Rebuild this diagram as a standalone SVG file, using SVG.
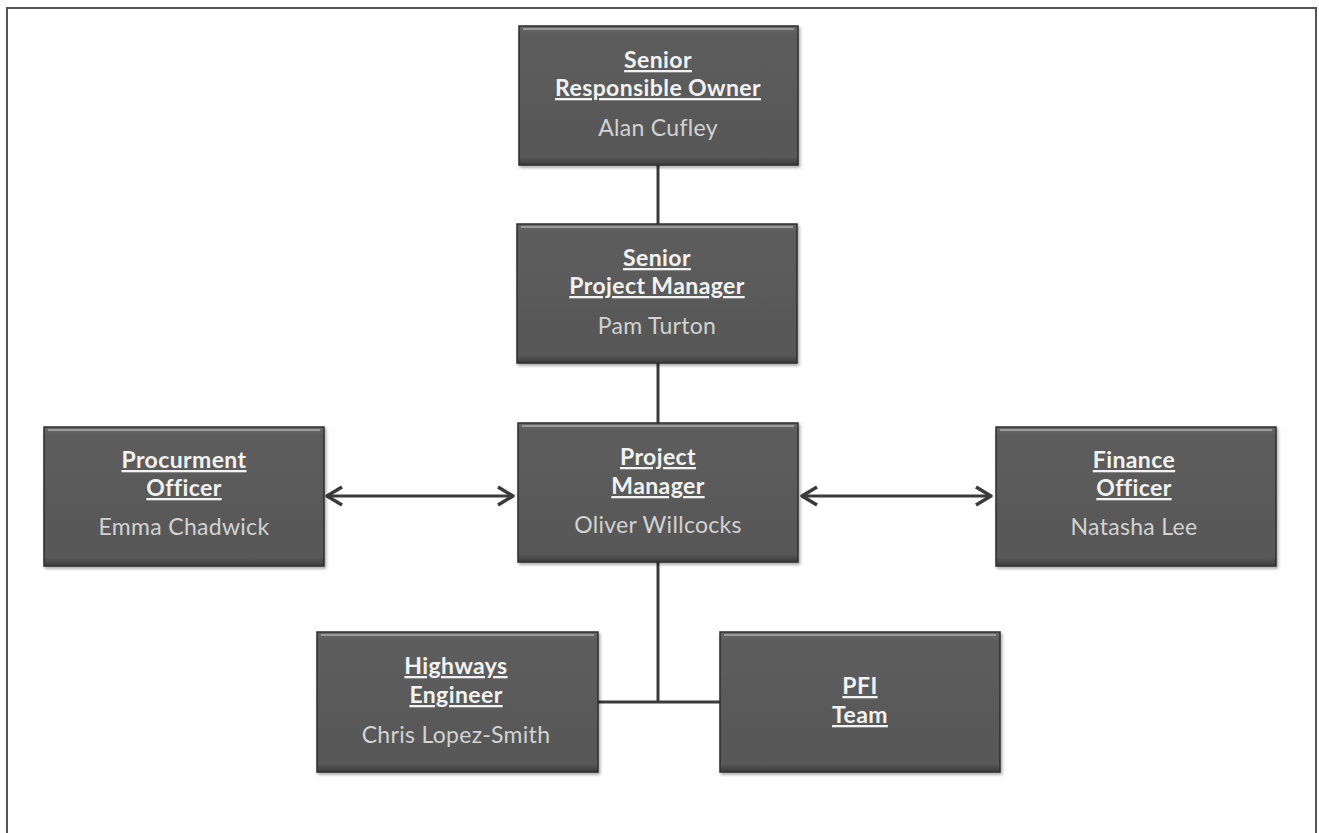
<svg xmlns="http://www.w3.org/2000/svg" width="1319" height="833" viewBox="0 0 1319 833">
<style>
.box{fill:url(#g);stroke:#2e2e2e;stroke-width:1.5}
.hl{fill:none;stroke:#9a9a9a;stroke-width:2}
.t{font-family:Lato,"Open Sans",sans-serif;font-size:23px;font-weight:bold;fill:#f2f2f2;text-anchor:middle;text-decoration:underline;letter-spacing:0.4px}
.n{font-family:Lato,"Open Sans",sans-serif;font-size:23px;fill:#d2d2d2;text-anchor:middle;letter-spacing:0.3px}
.c{stroke:#3a3a3a;stroke-width:3;fill:none}
</style>
<defs>
<linearGradient id="g" x1="0" y1="0" x2="0" y2="1">
<stop offset="0" stop-color="#6a6a6a"/>
<stop offset="0.06" stop-color="#5c5c5c"/>
<stop offset="0.94" stop-color="#585858"/>
<stop offset="1" stop-color="#3c3c3c"/>
</linearGradient>
<marker id="a" viewBox="0 0 22 22" refX="19" refY="11" markerWidth="22" markerHeight="22" markerUnits="userSpaceOnUse" orient="auto-start-reverse">
<path d="M4 2 L19 11 L4 20" fill="none" stroke="#3a3a3a" stroke-width="3.5" stroke-linejoin="round"/>
</marker>
<filter id="s" x="-5%" y="-5%" width="112%" height="115%">
<feDropShadow dx="1.5" dy="2" stdDeviation="1.5" flood-color="#000" flood-opacity="0.35"/>
</filter>
</defs>
<rect width="1319" height="833" fill="#fff"/>
<path d="M7 840 V8 H1316 V840" fill="none" stroke="#555" stroke-width="2"/>
<g id="connectors">
<line class="c" x1="658" y1="165" x2="658" y2="224"/>
<line class="c" x1="658" y1="363" x2="658" y2="423"/>
<line class="c" x1="658" y1="562" x2="658" y2="702"/>
<line class="c" x1="598" y1="702" x2="720" y2="702"/>
<line class="c" x1="327" y1="496" x2="513" y2="496" marker-start="url(#a)" marker-end="url(#a)"/>
<line class="c" x1="802" y1="496" x2="991" y2="496" marker-start="url(#a)" marker-end="url(#a)"/>
</g>
<g id="sro">
<rect class="box" x="519" y="26" width="279" height="139" filter="url(#s)"/>
<line class="hl" x1="523" y1="29" x2="794" y2="29"/>
<text class="t" x="658" y="68">Senior</text>
<text class="t" x="658" y="96">Responsible Owner</text>
<text class="n" x="658" y="136">Alan Cufley</text>
</g>
<g id="spm">
<rect class="box" x="517" y="224" width="280" height="139" filter="url(#s)"/>
<line class="hl" x1="521" y1="227" x2="793" y2="227"/>
<text class="t" x="657" y="266">Senior</text>
<text class="t" x="657" y="294">Project Manager</text>
<text class="n" x="657" y="334">Pam Turton</text>
</g>
<g id="pm">
<rect class="box" x="518" y="423" width="280" height="139" filter="url(#s)"/>
<line class="hl" x1="522" y1="426" x2="794" y2="426"/>
<text class="t" x="658" y="465">Project</text>
<text class="t" x="658" y="494">Manager</text>
<text class="n" x="658" y="533">Oliver Willcocks</text>
</g>
<g id="procurement">
<rect class="box" x="44" y="427" width="280" height="139" filter="url(#s)"/>
<line class="hl" x1="48" y1="430" x2="320" y2="430"/>
<text class="t" x="184" y="468">Procurment</text>
<text class="t" x="184" y="496">Officer</text>
<text class="n" x="184" y="535">Emma Chadwick</text>
</g>
<g id="finance">
<rect class="box" x="996" y="427" width="280" height="139" filter="url(#s)"/>
<line class="hl" x1="1000" y1="430" x2="1272" y2="430"/>
<text class="t" x="1134" y="468">Finance</text>
<text class="t" x="1134" y="496">Officer</text>
<text class="n" x="1134" y="535">Natasha Lee</text>
</g>
<g id="highways">
<rect class="box" x="317" y="632" width="281" height="140" filter="url(#s)"/>
<line class="hl" x1="321" y1="635" x2="594" y2="635"/>
<text class="t" x="456" y="674">Highways</text>
<text class="t" x="456" y="703">Engineer</text>
<text class="n" x="456" y="743">Chris Lopez-Smith</text>
</g>
<g id="pfi">
<rect class="box" x="720" y="632" width="280" height="140" filter="url(#s)"/>
<line class="hl" x1="724" y1="635" x2="996" y2="635"/>
<text class="t" x="860" y="694">PFI</text>
<text class="t" x="860" y="723">Team</text>
</g>
</svg>
